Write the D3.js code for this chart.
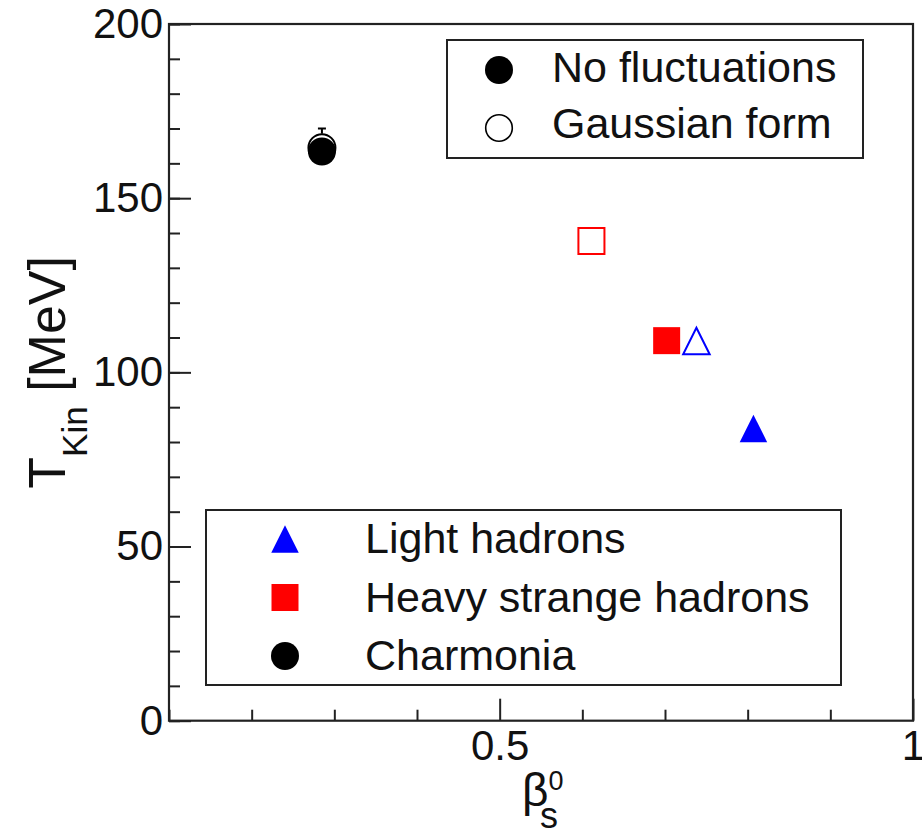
<html>
<head>
<script src="https://cdn.jsdelivr.net/npm/d3@7/dist/d3.min.js"></script>
<style>
body { margin: 0; background: #fff; }
text { font-family: "Liberation Sans", Arial, sans-serif; fill: #111; }
</style>
</head>
<body>
<svg id="chart" width="922" height="831"></svg>
<script>
// particle species, in legend order
var species = ["Light hadrons", "Heavy strange hadrons", "Charmonia"];
var speciesColor = ["#0000ff", "#ff0000", "#000000"];
var speciesShape = ["triangle", "square", "circle"];

// no fluctuations (filled markers)
var noFluctBeta = [0.807, 0.702, 0.285];
var noFluctT    = [83.9, 109.1, 163.4];

// gaussian form (open markers)
var gaussBeta  = [0.738, 0.611, 0.285];
var gaussT     = [109.0, 137.7, 164.5];
var gaussErrHi = [0, 0, 5.5];

var xMajor = [0.5, 1];
var xMinor = [0.1, 0.2, 0.3, 0.4, 0.6, 0.7, 0.8, 0.9];
var yMajor = [0, 50, 100, 150, 200];
var yMinor = d3.range(0, 201, 10);

var pL = 169, pR = 913, pT = 24, pB = 720.7;
var axisColor = "#222";

var svg = d3.select("#chart");
var x = d3.scaleLinear().domain([0.1, 1]).range([pL, pR]);
var y = d3.scaleLinear().domain([0, 200]).range([pB, pT]);

// triangle with bbox centered on the point (ROOT style)
var triangleType = {
  draw: function(ctx, size) {
    var s = Math.sqrt(size);
    ctx.moveTo(0, -s / 2);
    ctx.lineTo(s / 2, s / 2);
    ctx.lineTo(-s / 2, s / 2);
    ctx.closePath();
  }
};
function symType(name) {
  if (name == "triangle") return triangleType;
  if (name == "square") return d3.symbolSquare;
  return d3.symbolCircle;
}
function symSize(name) {
  if (name == "triangle") return 27.5 * 27.5;
  if (name == "square") return 27 * 27;
  return Math.PI * 14 * 14;
}

// axes (ticks point inward)
var gy = svg.append("g").attr("transform", "translate(" + pL + ",0)");
gy.call(d3.axisLeft(y).tickValues(yMinor).tickSize(-11).tickFormat(""));
gy.append("g").call(d3.axisLeft(y).tickValues(yMajor).tickSize(-22).tickPadding(6).tickFormat(d3.format("d")));
gy.selectAll(".domain").remove();
gy.selectAll("line").attr("stroke", axisColor).attr("stroke-width", 2);
gy.selectAll("text").style("font-size", "42px").attr("fill", "#111").style("font-family", "Liberation Sans, Arial, sans-serif");

var gx = svg.append("g").attr("transform", "translate(0," + pB + ")");
gx.call(d3.axisBottom(x).tickValues(xMinor).tickSize(-11).tickFormat(""));
gx.append("g").call(d3.axisBottom(x).tickValues(xMajor).tickSize(-22).tickPadding(9).tickFormat(function(d) { return d == 1 ? "1" : d3.format(".1f")(d); }));
gx.selectAll(".domain").remove();
gx.selectAll("line").attr("stroke", axisColor).attr("stroke-width", 2);
gx.selectAll("text").style("font-size", "42px").attr("fill", "#111").style("font-family", "Liberation Sans, Arial, sans-serif");

// frame
svg.append("rect")
  .attr("x", pL).attr("y", pT)
  .attr("width", pR - pL).attr("height", pB - pT)
  .attr("fill", "none").attr("stroke", axisColor).attr("stroke-width", 2.2);

// axis titles
var yt = svg.append("text")
  .attr("transform", "translate(65," + ((pT + pB) / 2) + ") rotate(-90)")
  .attr("text-anchor", "middle")
  .style("font-size", "52px");
yt.append("tspan").text("T");
yt.append("tspan").attr("dy", 22).style("font-size", "35px").text("Kin");
yt.append("tspan").attr("dy", -22).text(" [MeV]");

var xt = svg.append("text")
  .attr("x", 522).attr("y", 806)
  .style("font-size", "46px");
xt.append("tspan").text("\u03b2");
xt.append("tspan").attr("dy", -16).style("font-size", "27px").text("0");
xt.append("tspan").attr("x", 540).attr("dy", 38).style("font-size", "36px").text("s");

// data: gaussian (open) first, then no fluctuations (filled)
var gauss = species.map(function(s, i) { return { i: i, b: gaussBeta[i], t: gaussT[i], eh: gaussErrHi[i] }; });
var nofl = species.map(function(s, i) { return { i: i, b: noFluctBeta[i], t: noFluctT[i] }; });

svg.selectAll(".err").data(gauss.filter(function(d) { return d.eh > 0; }))
  .enter().append("line")
  .attr("x1", d => x(d.b)).attr("x2", d => x(d.b))
  .attr("y1", d => y(d.t) - 14).attr("y2", d => y(d.t + d.eh))
  .attr("stroke", d => speciesColor[d.i]).attr("stroke-width", 2);
svg.selectAll(".errcap").data(gauss.filter(function(d) { return d.eh > 0; }))
  .enter().append("line")
  .attr("x1", d => x(d.b) - 4).attr("x2", d => x(d.b) + 4)
  .attr("y1", d => y(d.t + d.eh)).attr("y2", d => y(d.t + d.eh))
  .attr("stroke", d => speciesColor[d.i]).attr("stroke-width", 2);

svg.selectAll(".open").data(gauss).enter().append("path")
  .attr("transform", d => "translate(" + x(d.b) + "," + y(d.t) + ")")
  .attr("d", d => d3.symbol().type(symType(speciesShape[d.i])).size(symSize(speciesShape[d.i]) * 0.93)())
  .attr("fill", "none")
  .attr("stroke", d => speciesColor[d.i])
  .attr("stroke-width", 2);

svg.selectAll(".filled").data(nofl).enter().append("path")
  .attr("transform", d => "translate(" + x(d.b) + "," + y(d.t) + ")")
  .attr("d", d => d3.symbol().type(symType(speciesShape[d.i])).size(symSize(speciesShape[d.i]))())
  .attr("fill", d => speciesColor[d.i]);

// legend 1: fluctuation type
svg.append("rect").attr("x", 447).attr("y", 40).attr("width", 416).attr("height", 118)
  .attr("fill", "#fff").attr("stroke", axisColor).attr("stroke-width", 2);
svg.append("path").attr("transform", "translate(499,70)")
  .attr("d", d3.symbol().type(d3.symbolCircle).size(Math.PI * 14 * 14)()).attr("fill", "#000");
svg.append("path").attr("transform", "translate(499,128)")
  .attr("d", d3.symbol().type(d3.symbolCircle).size(Math.PI * 13.3 * 13.3)())
  .attr("fill", "none").attr("stroke", "#000").attr("stroke-width", 1.6);
svg.append("text").attr("x", 552).attr("y", 82).style("font-size", "43px").text("No fluctuations");
svg.append("text").attr("x", 552).attr("y", 138).style("font-size", "43px").text("Gaussian form");

// legend 2: species
svg.append("rect").attr("x", 206).attr("y", 510).attr("width", 635).attr("height", 175)
  .attr("fill", "#fff").attr("stroke", axisColor).attr("stroke-width", 2);
var lg = svg.selectAll(".lg").data(species).enter().append("g")
  .attr("transform", function(d, i) { return "translate(285," + (539 + i * 58.5) + ")"; });
lg.append("path")
  .attr("d", function(d, i) { return d3.symbol().type(symType(speciesShape[i])).size(symSize(speciesShape[i]))(); })
  .attr("fill", function(d, i) { return speciesColor[i]; });
lg.append("text").attr("x", 80).attr("y", 14).style("font-size", "43px").text(d => d);
</script>
</body>
</html>
